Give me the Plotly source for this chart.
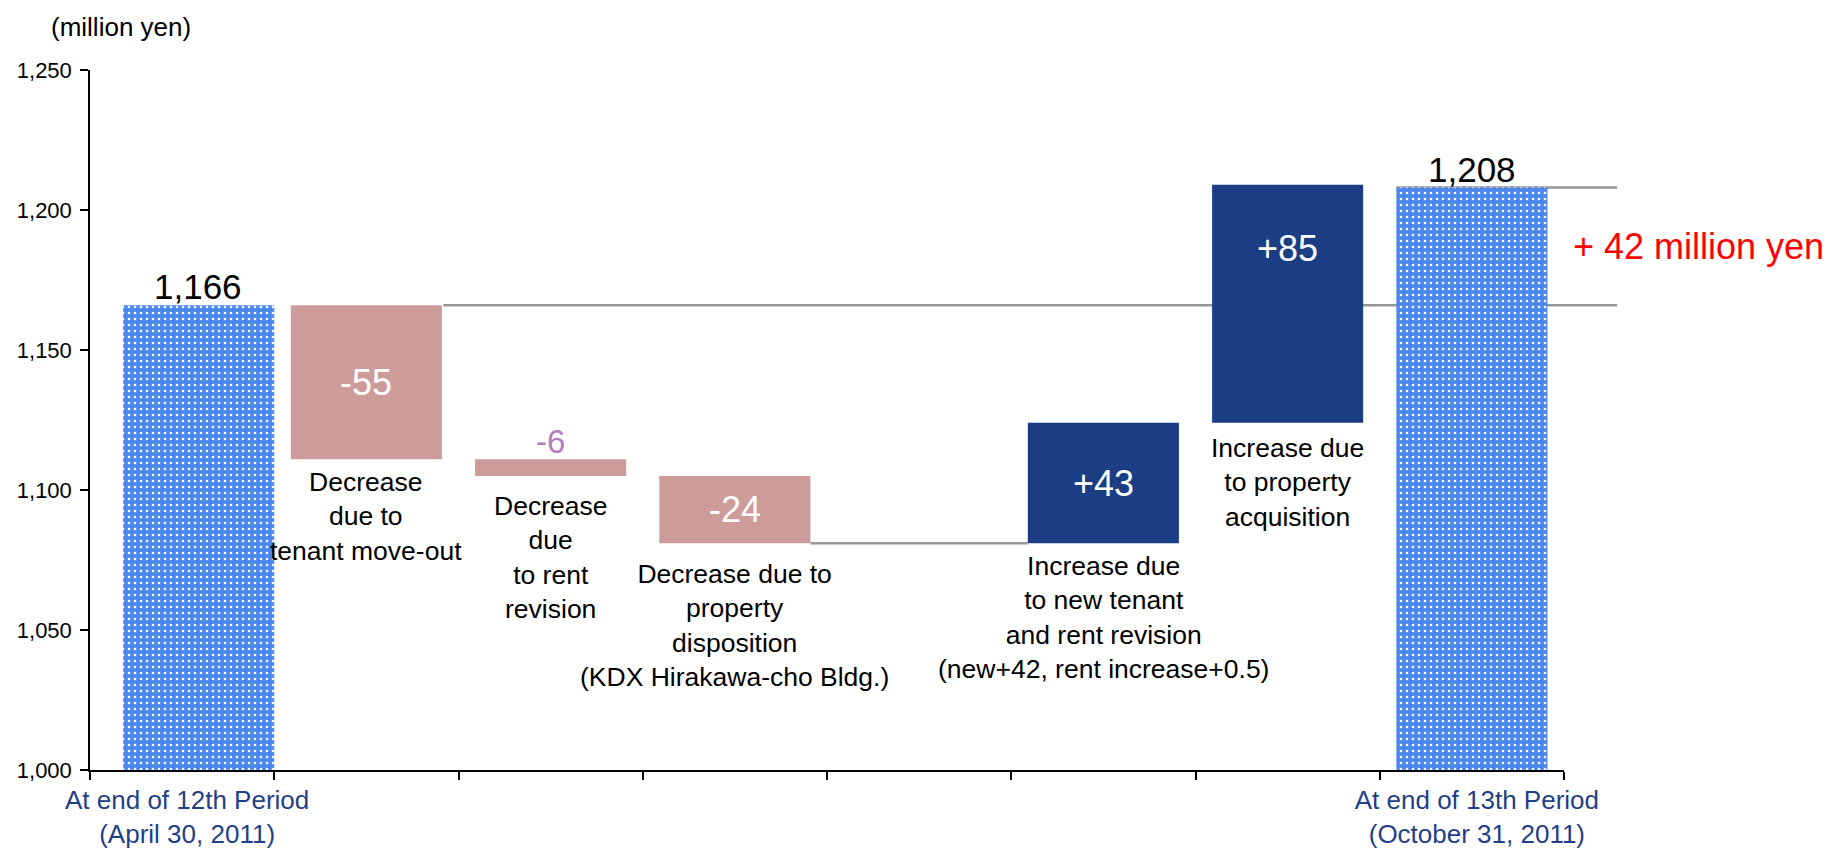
import plotly.graph_objects as go

# ---------------- data ----------------
categories = ["c0", "c1", "c2", "c3", "c4", "c5", "c6", "c7"]
tick_labels = ["At end of 12th Period<br>(April 30, 2011)", "", "", "", "", "", "",
               "At end of 13th Period<br>(October 31, 2011)"]
descriptions = ["",
                "Decrease<br>due to<br>tenant move-out",
                "Decrease<br>due<br>to rent<br>revision",
                "Decrease due to<br>property<br>disposition<br>(KDX Hirakawa-cho Bldg.)",
                "",
                "Increase due<br>to new tenant<br>and rent revision<br>(new+42, rent increase+0.5)",
                "Increase due<br>to property<br>acquisition",
                ""]
kinds = ["total", "decrease", "decrease", "decrease", "none", "increase", "increase", "total"]
values = [1166, -55, -6, -24, None, 43, 85, 1208]
value_labels = ["1,166", "-55", "-6", "-24", "", "+43", "+85", "1,208"]
y_ticks = [1000, 1050, 1100, 1150, 1200, 1250]
unit_label = "(million yen)"
diff_label = "+ 42 million yen"

# ---------------- styles ----------------
FONT = "Liberation Sans, Arial, sans-serif"
C_TOTAL = "#4A88EE"
C_DEC = "#CE9B9B"
C_INC = "#1A3D84"
C_CONN = "#969696"
C_TICK = "#1F3F87"
BAR_W = 0.82
N = len(categories)
DESC_SHIFT = [0, -2, -9, -10, 0, -2, -4, 0]

# compute waterfall geometry
bases, heights, lows, highs = [], [], [], []
running = None
for k, v in zip(kinds, values):
    if k == "total":
        running = v
        bases.append(None); heights.append(v); lows.append(1000); highs.append(v)
    elif k == "none":
        bases.append(None); heights.append(None); lows.append(None); highs.append(None)
    else:
        start = running
        end = running + v
        lo, hi = min(start, end), max(start, end)
        bases.append(lo); heights.append(hi - lo); lows.append(lo); highs.append(hi)
        running = end

fig = go.Figure()

# totals
tot_idx = [i for i, k in enumerate(kinds) if k == "total"]
fig.add_trace(go.Bar(
    x=[categories[i] for i in tot_idx],
    y=[heights[i] for i in tot_idx],
    width=BAR_W,
    offset=[-BAR_W / 2 + (0.09 if i == 0 else 0) for i in tot_idx],
    marker=dict(color=C_TOTAL,
                pattern=dict(shape=".", fgcolor="#FFFFFF", bgcolor=C_TOTAL,
                             size=6, solidity=0.15, fillmode="replace"),
                line=dict(width=0)),
    hoverinfo="skip", showlegend=False,
))
for kind, col in (("decrease", C_DEC), ("increase", C_INC)):
    idx = [i for i, k in enumerate(kinds) if k == kind]
    fig.add_trace(go.Bar(
        x=[categories[i] for i in idx],
        y=[heights[i] for i in idx],
        base=[bases[i] for i in idx],
        width=BAR_W,
        marker=dict(color=col, line=dict(width=0)),
        hoverinfo="skip", showlegend=False,
    ))

# ---------------- connector lines ----------------
def paper_x(pos):
    return (pos + 0.5) / N

EXT = 1.036
conn = [
    (highs[0], paper_x(1 + BAR_W / 2) + 0.001, EXT),
    (lows[3], paper_x(3 + BAR_W / 2), paper_x(5 - BAR_W / 2)),
    (highs[7], paper_x(7 - BAR_W / 2), EXT),
]
for yv, x0, x1 in conn:
    fig.add_shape(type="line", xref="paper", yref="y", x0=x0, x1=x1, y0=yv, y1=yv,
                  line=dict(color=C_CONN, width=2.5), layer="below")

# ---------------- labels ----------------
for i, k in enumerate(kinds):
    if k == "none":
        continue
    xs = 16 if i == 0 else 0
    lab = value_labels[i]
    if k == "total":
        fig.add_annotation(x=categories[i], y=highs[i], text=lab, showarrow=False,
                           yanchor="bottom", xshift=xs, yshift=-3,
                           font=dict(size=35, color="#000000", family=FONT))
    elif heights[i] < 10:
        fig.add_annotation(x=categories[i], y=highs[i], text=lab, showarrow=False,
                           yanchor="bottom", yshift=-3,
                           font=dict(size=33, color="#B47CC0", family=FONT))
    else:
        ys = 55 if i == 6 else 0
        fig.add_annotation(x=categories[i], y=(lows[i] + highs[i]) / 2, text=lab,
                           showarrow=False, yanchor="middle", yshift=ys,
                           font=dict(size=36, color="#FFFFFF", family=FONT))
    if descriptions[i]:
        fig.add_annotation(x=categories[i], y=lows[i], text=descriptions[i],
                           showarrow=False, yanchor="top", yshift=-4 + DESC_SHIFT[i],
                           align="center",
                           font=dict(size=26.5, color="#000000", family=FONT))

fig.add_annotation(xref="paper", yref="paper", x=0.021, y=1.061, text=unit_label,
                   showarrow=False, xanchor="center", yanchor="middle",
                   font=dict(size=26, color="#000000", family=FONT))
fig.add_annotation(xref="paper", yref="y", x=1.0045, y=(highs[0] + highs[7]) / 2,
                   text=diff_label, showarrow=False, xanchor="left", yanchor="middle",
                   font=dict(size=36, color="#FF0000", family=FONT))

fig.update_layout(
    width=1823, height=840,
    margin=dict(l=82, r=267, t=62, b=78, autoexpand=False),
    paper_bgcolor="#FFFFFF", plot_bgcolor="rgba(0,0,0,0)",
    barmode="overlay", bargap=0.18,
    font=dict(family=FONT, color="#000000"),
    showlegend=False,
)
fig.update_xaxes(
    type="category", categoryorder="array", categoryarray=categories,
    tickmode="array", tickvals=categories, ticktext=tick_labels,
    tickson="boundaries", ticks="outside", ticklen=8, tickwidth=1.5, tickcolor="#000000",
    showline=True, linecolor="#000000", linewidth=1.5, showgrid=False, zeroline=False,
    tickangle=0, tickfont=dict(size=26, color=C_TICK, family=FONT),
    ticklabelstandoff=6, ticklabelshift=5,
    range=[-0.5, N - 0.5], automargin=False,
)
fig.update_yaxes(
    range=[1000, 1250], tickmode="array", tickvals=y_ticks,
    ticktext=[f"{v:,}" for v in y_ticks],
    ticks="outside", ticklen=8, tickwidth=1.5, tickcolor="#000000",
    showline=True, linecolor="#000000", linewidth=1.5, showgrid=False, zeroline=False,
    tickfont=dict(size=22, color="#000000", family=FONT), ticklabelstandoff=4,
    automargin=False,
)

fig.write_html("out.html")
